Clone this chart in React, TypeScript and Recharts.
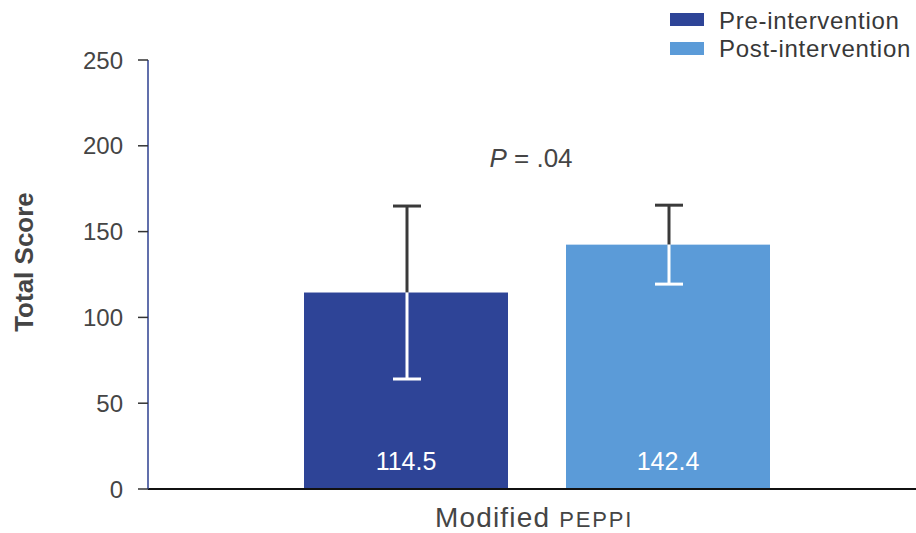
import React from 'react';
import { BarChart, Bar, XAxis, YAxis, LabelList, Customized } from 'recharts';

const categories = ['Modified PEPPI'];
const preValues = [114.5];
const postValues = [142.4];
const preErrors = [50.4];
const postErrors = [23.0];
const yTicks = [0, 50, 100, 150, 200, 250];
const seriesNames = ['Pre-intervention', 'Post-intervention'];
const seriesColors = ['#2e4497', '#5b9bd8'];
const pValueText = '.04';

const data = categories.map((c, i) => ({
  name: c,
  pre: preValues[i],
  post: postValues[i],
  preErr: preErrors[i],
  postErr: postErrors[i],
}));

const FONT = '"Liberation Sans", Arial, sans-serif';
const TEXT = '#454545';

const makeShape = (valueKey: string, errKey: string) => (props: any) => {
  const { x, y, width, height, fill, payload } = props;
  const v = payload[valueKey];
  const err = payload[errKey];
  const ratio = height / v;
  const base = y + height;
  const topY = base - (v + err) * ratio;
  const botY = base - (v - err) * ratio;
  const cx = x + width / 2 + 1;
  const cap = 14;
  return (
    <g>
      <rect x={x} y={y} width={width} height={height} fill={fill} />
      <line x1={cx} x2={cx} y1={topY} y2={y} stroke="#3a3a3a" strokeWidth={3} />
      <line x1={cx - cap} x2={cx + cap} y1={topY} y2={topY} stroke="#3a3a3a" strokeWidth={3} />
      <line x1={cx} x2={cx} y1={y} y2={botY} stroke="#ffffff" strokeWidth={3} />
      <line x1={cx - cap} x2={cx + cap} y1={botY} y2={botY} stroke="#ffffff" strokeWidth={3} />
    </g>
  );
};

const XTick = (props: any) => {
  const { x, payload } = props;
  const parts = String(payload.value).split(' ');
  return (
    <text x={x - 3} y={527} textAnchor="middle" fontFamily={FONT} fill={TEXT}>
      <tspan fontSize={28} letterSpacing={1.2}>{parts[0] + ' '}</tspan>
      <tspan fontSize={22} letterSpacing={1.8}>{parts.slice(1).join(' ')}</tspan>
    </text>
  );
};

const Extras = () => (
  <g fontFamily={FONT}>
    <text x={24} y={262} transform="rotate(-90 24 262)" textAnchor="middle" dominantBaseline="central" fontSize={26} fontWeight="bold" fill={TEXT}>
      Total Score
    </text>
    <text x={531} y={167} textAnchor="middle" fontSize={26} fill={TEXT}>
      <tspan fontStyle="italic">P</tspan>
      <tspan>{' = ' + pValueText}</tspan>
    </text>
    {seriesNames.map((n, i) => (
      <g key={n}>
        <rect x={670} y={13 + i * 29} width={34} height={13} fill={seriesColors[i]} />
        <text x={719} y={29 + i * 28} fontSize={24} letterSpacing={0.7} fill="#383838">
          {n}
        </text>
      </g>
    ))}
  </g>
);

export default function App() {
  return (
    <div style={{ position: 'fixed', top: 0, left: 0, width: 916, height: 533, overflow: 'hidden', background: '#fff' }}>
      <BarChart
        width={916}
        height={533}
        data={data}
        margin={{ top: 60, right: 0, bottom: 0, left: 0 }}
        barSize={204}
        barGap={58}
      >
        <XAxis
          dataKey="name"
          padding={{ left: 10, right: 0 }}
          axisLine={{ stroke: '#111', strokeWidth: 2 }}
          tickLine={false}
          tick={<XTick />}
          height={44}
        />
        <YAxis
          domain={[0, 250]}
          ticks={yTicks}
          width={148}
          axisLine={{ stroke: '#2d3f8f', strokeWidth: 1.5 }}
          tickLine={{ stroke: '#333', strokeWidth: 1.5 }}
          tickSize={10}
          tickMargin={15}
          tick={{ fontSize: 24, fill: TEXT, fontFamily: FONT }}
        />
        <Bar dataKey="pre" fill={seriesColors[0]} isAnimationActive={false} shape={makeShape('pre', 'preErr')}>
          <LabelList dataKey="pre" position="insideBottom" offset={19} fill="#ffffff" fontSize={25} fontFamily={FONT} />
        </Bar>
        <Bar dataKey="post" fill={seriesColors[1]} isAnimationActive={false} shape={makeShape('post', 'postErr')}>
          <LabelList dataKey="post" position="insideBottom" offset={19} fill="#ffffff" fontSize={25} fontFamily={FONT} />
        </Bar>
        <Customized component={Extras} />
      </BarChart>
    </div>
  );
}
